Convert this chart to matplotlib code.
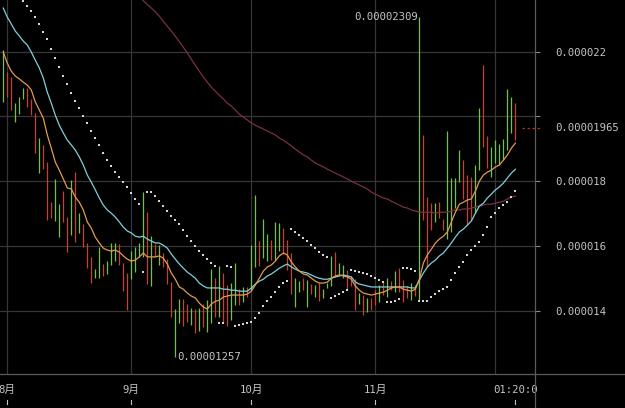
import numpy as np
import pandas as pd
import matplotlib
matplotlib.use("Agg")
import matplotlib.pyplot as plt
from matplotlib.lines import Line2D
from matplotlib.transforms import blended_transform_factory

# prices are in units of 1e-6
SCALE = 1e-6
first_day = "2021-07-31"

highs = [22.05, 21.37, 21.22, 20.41, 20.60, 20.88, 20.88, 20.54, 20.10, 19.33,
         19.12, 18.59, 17.35, 18.06, 17.29, 17.69, 16.89, 18.03, 18.28, 17.01,
         16.67, 16.09, 15.65, 15.28, 15.96, 15.44, 15.53, 16.09, 16.09, 16.06,
         15.47, 15.16, 15.84, 15.96, 16.09, 17.66, 17.04, 16.30, 16.06, 16.02,
         15.78, 15.59, 14.88, 14.05, 14.36, 14.36, 14.20, 14.08, 14.05, 14.08,
         14.20, 14.32, 15.28, 15.00, 15.38, 15.16, 14.79, 14.85, 15.47, 14.66,
         14.73, 14.73, 16.02, 17.57, 16.15, 16.83, 16.36, 16.18, 16.74, 16.71,
         16.55, 16.18, 15.78, 15.00, 14.91, 15.00, 14.94, 14.82, 14.79, 14.85,
         14.66, 14.85, 15.68, 15.81, 15.47, 15.41, 15.25, 15.07, 14.97, 14.54,
         14.48, 14.39, 14.39, 14.63, 14.79, 14.91, 15.00, 14.91, 15.22, 15.31,
         14.94, 14.76, 14.85, 14.79, 23.09, 19.43, 17.51, 17.32, 17.32, 17.35,
         16.83, 19.55, 18.10, 18.10, 18.96, 18.65, 18.19, 18.13, 18.50, 20.26,
         21.59, 19.39, 19.05, 19.27, 19.15, 19.30, 20.85, 20.60, 20.41]

lows = [20.45, 20.60, 20.20, 19.83, 20.07, 20.54, 20.29, 20.04, 18.87, 18.25,
        18.37, 16.80, 16.86, 16.77, 16.27, 16.74, 15.81, 16.33, 16.12, 16.40,
        15.96, 15.31, 14.85, 15.00, 15.00, 15.07, 15.13, 15.41, 15.53, 15.41,
        14.60, 14.02, 14.97, 15.19, 15.65, 15.65, 14.82, 14.76, 15.65, 15.41,
        15.35, 14.82, 13.80, 12.57, 13.61, 13.52, 13.64, 13.55, 13.30, 13.37,
        13.49, 13.34, 13.61, 13.80, 13.80, 13.64, 13.52, 13.71, 14.17, 14.17,
        14.26, 14.42, 14.63, 15.35, 15.38, 15.62, 15.53, 15.56, 15.56, 15.84,
        15.75, 15.25, 14.51, 14.11, 14.57, 14.63, 14.11, 14.51, 14.42, 14.29,
        14.39, 14.70, 14.76, 15.03, 15.10, 15.00, 14.63, 14.76, 14.02, 14.20,
        13.86, 13.95, 14.02, 14.17, 14.26, 14.48, 14.42, 14.63, 14.57, 14.57,
        14.26, 14.39, 14.32, 14.45, 14.32, 16.80, 15.35, 16.49, 16.74, 16.86,
        16.49, 16.21, 16.43, 17.17, 17.97, 17.45, 16.64, 16.80, 17.01, 18.34,
        19.05, 18.41, 18.13, 18.56, 18.50, 18.65, 18.96, 19.49, 19.27]

# 1 = closed up (green), 0 = closed down (red)
up = [1, 0, 0, 1, 1, 1, 0, 0, 0, 1,
      0, 0, 0, 1, 1, 0, 0, 1, 0, 1,
      0, 0, 0, 1, 1, 0, 1, 1, 1, 0,
      0, 0, 1, 1, 1, 1, 0, 1, 0, 1,
      0, 0, 0, 1, 1, 0, 0, 1, 0, 1,
      0, 1, 1, 0, 1, 0, 0, 1, 1, 0,
      1, 0, 1, 1, 0, 1, 1, 0, 1, 1,
      0, 0, 0, 1, 1, 0, 1, 0, 1, 0,
      1, 1, 1, 0, 1, 1, 0, 0, 0, 1,
      0, 1, 0, 0, 1, 0, 1, 0, 1, 0,
      0, 0, 1, 0, 1, 0, 0, 0, 1, 0,
      0, 1, 1, 1, 1, 0, 0, 0, 1, 1,
      0, 0, 1, 1, 1, 1, 1, 1, 0]

ma_fast = [21.99, 21.65, 21.40, 21.25, 21.16, 21.06, 20.97, 20.82, 20.45, 20.20,
           19.95, 19.43, 19.02, 18.59, 18.34, 18.07, 17.79, 17.76, 17.51, 17.35,
           17.11, 16.74, 16.55, 16.27, 16.09, 15.93, 15.87, 15.84, 15.87, 15.81,
           15.69, 15.59, 15.53, 15.56, 15.66, 15.78, 15.66, 15.66, 15.66, 15.69,
           15.62, 15.44, 15.16, 14.97, 14.73, 14.66, 14.54, 14.45, 14.39, 14.23,
           14.11, 14.05, 14.20, 14.29, 14.32, 14.42, 14.45, 14.48, 14.48, 14.48,
           14.48, 14.51, 14.60, 14.79, 15.00, 15.22, 15.35, 15.41, 15.53, 15.69,
           15.78, 15.72, 15.50, 15.35, 15.22, 15.13, 15.10, 15.00, 14.91, 14.85,
           14.85, 14.88, 15.00, 15.07, 15.10, 15.07, 15.04, 14.97, 14.76, 14.63,
           14.54, 14.51, 14.48, 14.51, 14.54, 14.57, 14.63, 14.70, 14.73, 14.73,
           14.66, 14.63, 14.60, 14.66, 14.97, 15.47, 15.72, 15.90, 16.09, 16.21,
           16.30, 16.43, 16.74, 17.04, 17.29, 17.35, 17.42, 17.45, 17.69, 18.00,
           18.19, 18.28, 18.34, 18.44, 18.50, 18.65, 18.81, 19.02, 19.18]

ma_mid = [23.35, 23.07, 22.86, 22.64, 22.49, 22.33, 22.21, 21.99, 21.74, 21.50,
          21.19, 20.75, 20.41, 20.04, 19.73, 19.49, 19.27, 19.12, 18.96, 18.75,
          18.50, 18.19, 17.97, 17.73, 17.48, 17.26, 17.11, 17.01, 16.89, 16.74,
          16.58, 16.46, 16.40, 16.30, 16.27, 16.30, 16.21, 16.15, 16.09, 16.09,
          16.02, 15.93, 15.75, 15.59, 15.44, 15.31, 15.19, 15.10, 15.00, 14.85,
          14.76, 14.70, 14.70, 14.70, 14.70, 14.66, 14.66, 14.63, 14.63, 14.60,
          14.60, 14.60, 14.70, 14.82, 14.91, 14.97, 15.07, 15.13, 15.22, 15.31,
          15.38, 15.44, 15.35, 15.28, 15.22, 15.19, 15.16, 15.10, 15.04, 15.00,
          14.97, 14.97, 15.00, 15.04, 15.07, 15.10, 15.07, 15.04, 14.88, 14.82,
          14.79, 14.76, 14.73, 14.73, 14.73, 14.73, 14.73, 14.73, 14.73, 14.73,
          14.73, 14.73, 14.70, 14.70, 14.94, 15.16, 15.35, 15.47, 15.56, 15.69,
          15.78, 15.93, 16.09, 16.27, 16.43, 16.52, 16.64, 16.77, 17.01, 17.23,
          17.32, 17.48, 17.60, 17.73, 17.82, 17.94, 18.10, 18.25, 18.37]

ma_slow = [np.nan] * 34 + [
    23.70, 23.58, 23.46, 23.35, 23.24, 23.10, 22.94, 22.79, 22.64, 22.48,
    22.31, 22.14, 21.96, 21.77, 21.58, 21.40, 21.22, 21.06, 20.91, 20.78,
    20.66, 20.54, 20.41, 20.32, 20.20, 20.07, 19.98, 19.89, 19.80, 19.73,
    19.67, 19.61, 19.55, 19.49, 19.43, 19.33, 19.27, 19.18, 19.09, 18.99,
    18.90, 18.81, 18.75, 18.65, 18.56, 18.50, 18.44, 18.37, 18.31, 18.25,
    18.19, 18.13, 18.07, 18.00, 17.94, 17.88, 17.82, 17.76, 17.66, 17.60,
    17.54, 17.48, 17.45, 17.38, 17.32, 17.26, 17.20, 17.17, 17.11, 17.08,
    17.04, 17.04, 17.04, 17.04, 17.01, 17.04, 17.04, 17.04, 17.08, 17.11,
    17.11, 17.14, 17.14, 17.17, 17.20, 17.23, 17.26, 17.29, 17.29, 17.32,
    17.35, 17.38, 17.45, 17.51, 17.54]

sar = [np.nan] * 5 + [
    23.57, 23.41, 23.26, 23.07, 22.86,
    22.61, 22.39, 22.08, 21.81, 21.53, 21.25, 21.00, 20.72, 20.48, 20.26,
    20.01, 19.80, 19.55, 19.33, 19.11, 18.87, 18.65, 18.47, 18.28, 18.13,
    17.97, 17.82, 17.63, 17.45, 17.29, 15.19, 17.66, 17.66, 17.54, 17.38,
    17.23, 17.08, 16.92, 16.80, 16.67, 16.49, 16.30, 16.15, 15.99, 15.84,
    15.72, 15.59, 15.47, 15.38, 13.61, 13.61, 15.38, 15.35, 13.52, 13.55,
    13.58, 13.61, 13.64, 13.77, 13.92, 14.14, 14.29, 14.42, 14.57, 14.73,
    14.85, 14.91, 16.52, 16.43, 16.33, 16.24, 16.15, 16.02, 15.93, 15.81,
    15.72, 15.65, 14.39, 14.45, 14.51, 14.57, 14.63, 15.25, 15.22, 15.19,
    15.16, 15.13, 15.07, 15.00, 14.94, 14.88, 14.26, 14.26, 14.29, 14.36,
    15.31, 15.31, 15.28, 15.22, 14.29, 14.29, 14.29, 14.42, 14.51, 14.60,
    14.66, 14.73, 14.94, 15.16, 15.35, 15.50, 15.72, 15.87, 15.99, 16.12,
    16.33, 16.58, 16.89, 17.01, 17.17, 17.26, 17.35, 17.51, 17.69]

last_price = 19.65
price_ticks = [14, 16, 18, 20, 22]
last_time_label = "01:20:0"

GREEN = "#76c043"
RED = "#c8412d"
TEXT = "#c4c4c4"
GRID = "#363636"
LINE = "#5a5a5a"
mono = ["DejaVu Sans Mono", "Noto Sans CJK SC"]

dates = pd.date_range(first_day, periods=len(highs), freq="D")
idx = np.arange(len(highs))

fig = plt.figure(figsize=(6.25, 4.08), dpi=100, facecolor="black")
ax = fig.add_axes([0, 34 / 408, 535 / 625, 374 / 408])
ax.set_facecolor("black")
ax.set_xlim(-0.82, 132.9)
ax.set_ylim(12.04, 23.60)
for s in ax.spines.values():
    s.set_visible(False)

# grid
for p in price_ticks:
    ax.axhline(p, color=GRID, lw=0.9, zorder=0)
month_starts = idx[dates.day == 1]
for m in month_starts:
    ax.axvline(m, color=GRID, lw=0.9, zorder=0)

# bars
colors = [GREEN if u else RED for u in up]
ax.vlines(idx, lows, highs, colors=colors, lw=0.9, zorder=2)

# moving averages
ax.plot(idx, ma_slow, color="#7a2f4a", lw=0.9, zorder=3)
ax.plot(idx, ma_mid, color="#7fd0da", lw=0.9, zorder=3)
ax.plot(idx, ma_fast, color="#e39a4e", lw=0.9, zorder=4)

# parabolic SAR
ax.plot(idx, sar, ls="none", marker="s", ms=1.7, mew=0, color="#d6d6d6", zorder=5)

# high / low markers
hi = int(np.argmax(highs))
lo = int(np.argmin(lows))
ax.text(hi - 0.3, highs[hi], f"{highs[hi] * SCALE:.8f}", ha="right", va="center",
        color=TEXT, fontsize=7.7, family=mono)
ax.text(lo + 0.6, lows[lo], f"{lows[lo] * SCALE:.8f}", ha="left", va="center",
        color=TEXT, fontsize=7.7, family=mono)

# price axis on the right
ax.yaxis.tick_right()
ax.set_yticks(price_ticks)
ax.set_yticklabels(["" if abs(p * SCALE - 2e-5) < 1e-12 else f"{p * SCALE:.6f}" for p in price_ticks])
ax.tick_params(axis="y", length=3.6, width=0.8, color="#8a8a8a", pad=11,
               labelsize=7.7, labelcolor=TEXT)
for lab in ax.get_yticklabels():
    lab.set_family(mono)
ax.set_xticks([])

# last price marker
ax.plot([129.6, 134.2], [last_price, last_price], ls=(0, (2, 2)), color="#a83030",
        lw=0.9, clip_on=False, zorder=6)
ax.text(555 / 535, last_price, f"{last_price * SCALE:.8f}",
        transform=blended_transform_factory(ax.transAxes, ax.transData),
        ha="left", va="center", color=TEXT, fontsize=7.7, family=mono)

# time axis
bt = blended_transform_factory(ax.transData, ax.transAxes)
tick_pos = [m for m in month_starts if dates[m].month != 12] + [idx[-1]]
tick_lab = [f"{dates[m].month}月" for m in month_starts if dates[m].month != 12] + [last_time_label]
for p, t in zip(tick_pos, tick_lab):
    ax.text(p, -0.043, t, transform=bt, ha="center", va="center",
            color=TEXT, fontsize=7.7, family=mono, clip_on=False)
    ax.plot([p, p], [-0.070, -0.079], transform=bt, color=TEXT, lw=0.8, clip_on=False)

# frame lines between panes
fig.add_artist(Line2D([0, 1], [34 / 408, 34 / 408], color=LINE, lw=0.9))
fig.add_artist(Line2D([535 / 625, 535 / 625], [0, 1], color=LINE, lw=0.9))

fig.savefig("out.png", dpi=100, facecolor="black")
